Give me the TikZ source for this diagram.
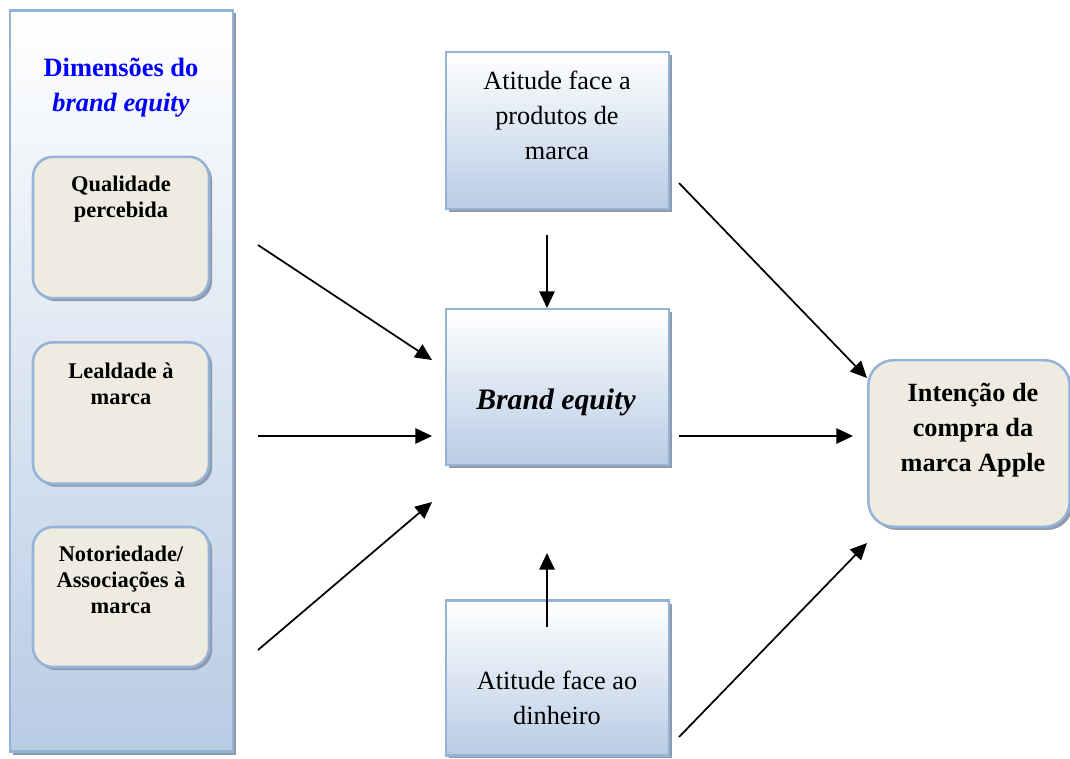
\documentclass[tikz,border=0pt]{standalone}
\usepackage{fontspec}
\setmainfont{Liberation Serif}
\usetikzlibrary{arrows.meta,shadows}

\definecolor{frameblue}{HTML}{95B3D7}
\definecolor{shadeblue}{HTML}{B8CCE4}
\definecolor{paper}{HTML}{EEECE1}
\definecolor{shadowgrey}{HTML}{8E9AAB}
\definecolor{titleblue}{HTML}{0000FF}

\tikzset{
  boxshadow/.style={general shadow={shadow xshift=2.3pt, shadow yshift=-2.3pt, fill=shadowgrey}},
  panel/.style={draw=frameblue, line width=1.9pt, top color=white, bottom color=shadeblue,
    boxshadow, minimum width=167pt, inner sep=0pt},
  dimbox/.style={draw=frameblue, line width=1.9pt, fill=paper, rounded corners=15pt,
    boxshadow, minimum width=132pt, inner sep=0pt},
  goalbox/.style={draw=frameblue, line width=1.9pt, fill=paper, rounded corners=19pt,
    boxshadow, minimum width=151pt, minimum height=125pt, inner sep=0pt},
  dimtext/.style={align=center, font=\fontsize{16.8}{19.5}\selectfont\bfseries},
  bodytext/.style={align=center, font=\fontsize{19.7}{26.25}\selectfont},
  flow/.style={line width=1.3pt, -{Triangle[length=12.5pt,width=11.5pt]}},
}

\begin{document}
\begin{tikzpicture}[x=0.75pt, y=-0.75pt]
\useasboundingbox (0,0) rectangle (1070,758);

% left panel with the three dimensions
\node[panel, minimum height=556pt] (dims) at (121.5,381) {};
\node[bodytext, font=\fontsize{19.8}{26.25}\selectfont\bfseries, text=titleblue] (dimtitle) at (121,87.5)
  {Dimensões do\\\textit{brand equity}};
\node[dimbox, minimum height=106pt] (qual) at (121,227.5) {};
\node[dimtext] (qualtxt) at (121,199) {Qualidade\\percebida};
\node[dimbox, minimum height=106pt] (leal) at (121,413) {};
\node[dimtext] (lealtxt) at (121,384) {Lealdade à\\marca};
\node[dimbox, minimum height=105pt] (noto) at (121,597) {};
\node[dimtext] (nototxt) at (121,580) {Notoriedade/\\Associações à\\marca};

% central column
\node[panel, minimum height=118pt] (prod) at (557.5,130.5) {};
\node[bodytext] (prodtxt) at (557,115.5) {Atitude face a\\produtos de\\marca};
\node[panel, minimum height=117pt] (be) at (557.5,387) {};
\node[bodytext, font=\fontsize{22.3}{26.25}\selectfont\bfseries\itshape] (betxt) at (556,402) {Brand equity};
\node[panel, minimum height=116pt] (money) at (557.5,678) {};
\node[bodytext] (moneytxt) at (557,697.5) {Atitude face ao\\dinheiro};

% outcome
\node[goalbox] (goal) at (969,443.5) {};
\node[bodytext, font=\fontsize{19.7}{26.25}\selectfont\bfseries] (goaltxt) at (973,430)
  {Intenção de\\compra da\\marca Apple};

% connector end points
\coordinate (a1s) at (258,245);  \coordinate (a1e) at (432,360);
\coordinate (a2s) at (258,436);  \coordinate (a2e) at (432,436);
\coordinate (a3s) at (258,650);  \coordinate (a3e) at (432,502);
\coordinate (a4s) at (547,235);  \coordinate (a4e) at (547,308);
\coordinate (a5s) at (547,627);  \coordinate (a5e) at (547,553);
\coordinate (a6s) at (679,436);  \coordinate (a6e) at (853,436);
\coordinate (a7s) at (679,183);  \coordinate (a7e) at (867,378);
\coordinate (a8s) at (679,737);  \coordinate (a8e) at (867,543);

\draw[flow] (a1s) -- (a1e);
\draw[flow] (a2s) -- (a2e);
\draw[flow] (a3s) -- (a3e);
\draw[flow] (a4s) -- (a4e);
\draw[flow] (a5s) -- (a5e);
\draw[flow] (a6s) -- (a6e);
\draw[flow] (a7s) -- (a7e);
\draw[flow] (a8s) -- (a8e);
\end{tikzpicture}
\end{document}
